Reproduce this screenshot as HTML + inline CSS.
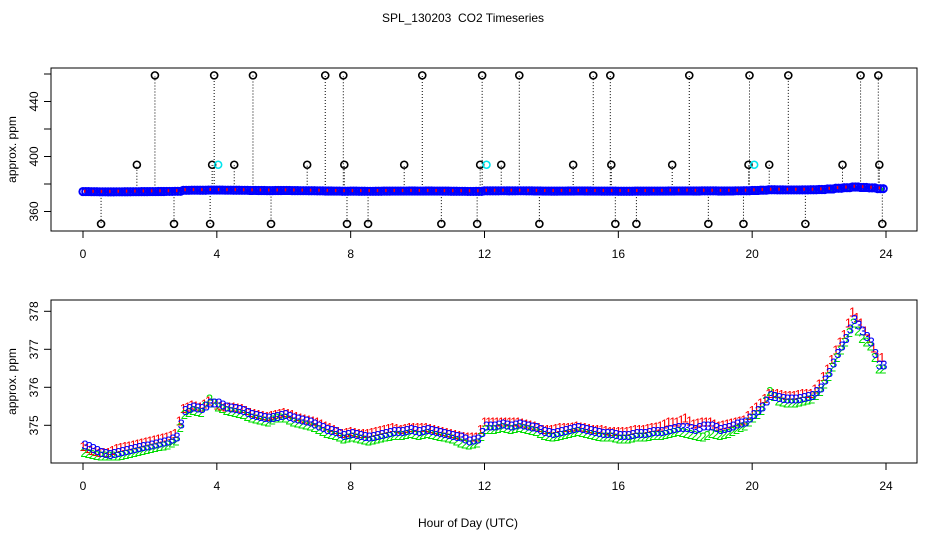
<!DOCTYPE html>
<html><head><meta charset="utf-8"><style>
body{margin:0;background:#fff}
svg text{font-family:"Liberation Sans",sans-serif}
</style></head><body>
<svg id="chart" width="936" height="540" viewBox="0 0 936 540" xmlns="http://www.w3.org/2000/svg">
<text x="463" y="22" font-size="12" text-anchor="middle" style="white-space:pre">SPL_130203  CO2 Timeseries</text>
<text x="468" y="527" font-size="12" text-anchor="middle">Hour of Day (UTC)</text>
<g id="topPanel"></g>
<g id="botPanel"></g>
</svg>
<script>
const times = [];
for (let i = 0; i < 96; i++) times.push(i * 0.25);
const seriesBlue = [374.5,374.4,374.3,374.25,374.3,374.35,374.4,374.45,374.5,374.55,374.6,374.7,375.4,375.5,375.45,375.6,
375.6,375.5,375.45,375.4,375.3,375.25,375.2,375.25,375.3,375.2,375.15,375.1,375.0,374.9,374.85,374.75,
374.8,374.75,374.7,374.75,374.8,374.85,374.85,374.9,374.85,374.9,374.85,374.8,374.75,374.7,374.6,374.65,
375.0,375.0,375.05,375.0,375.05,375.0,374.95,374.85,374.8,374.85,374.9,374.95,374.9,374.85,374.8,374.8,
374.75,374.75,374.8,374.8,374.85,374.85,374.9,374.95,374.95,374.9,375.0,375.0,374.9,374.95,375.05,375.1,
375.3,375.5,375.8,375.75,375.7,375.7,375.75,375.8,376.0,376.4,376.9,377.3,377.8,377.5,377.2,376.6];
const seriesRed = [374.45,374.35,374.3,374.3,374.4,374.45,374.5,374.55,374.6,374.65,374.7,374.8,375.45,375.55,375.5,375.65,
375.55,375.5,375.5,375.45,375.35,375.3,375.25,375.3,375.35,375.3,375.2,375.15,375.1,375.0,374.9,374.8,
374.85,374.8,374.8,374.85,374.9,374.95,374.9,374.95,374.95,374.95,374.9,374.85,374.8,374.75,374.7,374.7,
375.1,375.1,375.1,375.1,375.1,375.05,375.0,374.9,374.9,374.95,374.95,375.0,374.95,374.9,374.9,374.85,
374.85,374.85,374.9,374.9,374.95,375.0,375.1,375.1,375.2,375.05,375.1,375.1,375.0,375.05,375.1,375.15,
375.4,375.6,375.85,375.85,375.8,375.8,375.85,375.85,376.1,376.5,377.0,377.4,378.0,377.7,377.3,376.8];
const seriesGreen = [374.3,374.25,374.2,374.2,374.2,374.25,374.3,374.35,374.4,374.45,374.5,374.6,375.3,375.4,375.35,375.7,
375.5,375.4,375.35,375.3,375.2,375.15,375.1,375.2,375.2,375.1,375.05,375.0,374.9,374.8,374.75,374.65,
374.7,374.65,374.6,374.65,374.7,374.75,374.75,374.8,374.75,374.8,374.75,374.7,374.65,374.55,374.5,374.55,
374.9,374.9,374.95,374.9,374.95,374.9,374.85,374.75,374.7,374.75,374.8,374.85,374.8,374.75,374.7,374.7,
374.65,374.65,374.7,374.7,374.75,374.75,374.8,374.85,374.8,374.75,374.7,374.8,374.75,374.8,374.9,375.0,
375.2,375.4,375.9,375.65,375.6,375.6,375.65,375.7,375.9,376.3,376.8,377.2,377.7,377.3,377.1,376.5];
const spikeHighHours = [2.15,3.92,5.08,7.24,7.78,10.14,11.93,13.04,15.25,15.76,18.12,19.92,21.08,23.24,23.77];
const spikeMidHours = [1.61,3.86,4.52,6.70,7.81,9.60,11.87,12.5,14.65,15.79,17.61,19.89,20.51,22.70,23.80];
const spikeCyanHours = [3.98,12.0,20.0];
const spikeLowHours = [0.54,2.72,3.80,5.62,7.89,8.52,10.71,11.78,13.64,15.91,16.54,18.69,19.74,21.59,23.89];
const spikeHigh = 459, spikeMid = 394, spikeLow = 351;
const xTicks = [0,4,8,12,16,20,24];
const topYTicks = [360,380,400,420,440,460];
const topYLabels = [360,400,440];
const botYTicks = [375,376,377,378];

const NS = "http://www.w3.org/2000/svg";
function mk(parent, tag, attrs){const e=document.createElementNS(NS,tag);for(const k in attrs)e.setAttribute(k,attrs[k]);parent.appendChild(e);return e;}
const xS = h => 83 + h * (886 - 83) / 24;
const yTop = v => 211.5 - (v - 360) * 1.375;
const yBot = v => 425.3 - (v - 375) * 38;

function frame(g, y0, y1, yScale, ticks, labels, prefix){
  const b = mk(g,'rect',{x:51,y:y0,width:866,height:y1-y0,fill:'none',stroke:'#000','stroke-width':1});
  
  
  xTicks.forEach(t=>{
    mk(g,'line',{x1:xS(t),x2:xS(t),y1:y1,y2:y1+7,stroke:'#000'});
    const tx = mk(g,'text',{x:xS(t),y:y1+27,'font-size':12,'text-anchor':'middle'});
    tx.textContent = t;
    
    
  });
  ticks.forEach(t=>{
    mk(g,'line',{x1:44,x2:51,y1:yScale(t),y2:yScale(t),stroke:'#000'});
  });
  labels.forEach(t=>{
    const y = yScale(t);
    const tx = mk(g,'text',{x:38,y:y,'font-size':12,'text-anchor':'middle',transform:`rotate(-90 38 ${y})`});
    tx.textContent = t;
    
    
  });
  const yc = (y0+y1)/2;
  const at = mk(g,'text',{x:16,y:yc,'font-size':12,'text-anchor':'middle',transform:`rotate(-90 16 ${yc})`});
  at.textContent = 'approx. ppm';
  
  
}

// top panel
const topG = document.getElementById('topPanel');
frame(topG, 68, 231, yTop, topYTicks, topYLabels, 'top');
function spikes(hours, val, color){
  hours.forEach(h=>{
    const i = Math.min(95, Math.round(h*4));
    mk(topG,'line',{x1:xS(h),x2:xS(h),y1:yTop(seriesBlue[i]),y2:yTop(val),stroke:'#000','stroke-dasharray':'1,2','stroke-width':1});
    const c = mk(topG,'circle',{cx:xS(h),cy:yTop(val),r:3.5,fill:'none',stroke:color,'stroke-width':1.6});
    
    
  });
}
spikes(spikeHighHours, spikeHigh, '#000');
spikes(spikeMidHours, spikeMid, '#000');
spikes(spikeLowHours, spikeLow, '#000');
spikeCyanHours.forEach(h=>{
  const c = mk(topG,'circle',{cx:xS(h)+2,cy:yTop(spikeMid),r:3.5,fill:'none',stroke:'#00e5ee','stroke-width':1.6});
  
  
});
for (let i=0;i<times.length;i++){
  for (let k=0;k<3;k++){
    const hh = times[i] + k*0.0833;
    const c = mk(topG,'circle',{cx:xS(hh),cy:yTop(seriesBlue[i]),r:3.6,fill:'none',stroke:'#0000ff','stroke-width':2});
    
    
  }
  const r = mk(topG,'rect',{x:xS(times[i])+1,y:yTop(seriesRed[i])-2,width:1.5,height:3,fill:'#ff0000'});
  
  
  const g2 = mk(topG,'rect',{x:xS(times[i])+4,y:yTop(seriesGreen[i])-1,width:1.5,height:3,fill:'#00cc00'});
  
  
}

// bottom panel
const botG = document.getElementById('botPanel');
frame(botG, 300, 463, yBot, botYTicks, botYTicks, 'bottom');
const sets = [[seriesRed,'#ff0000','1'],[seriesGreen,'#00dd00','2'],[seriesBlue,'#0000ff','3']];
sets.forEach(([arr,col,ch],si)=>{
  for (let k=0;k<2;k++){
    arr.forEach((v,i)=>{
      const vv = k===0 ? v : (i<95 ? (v+arr[i+1])/2 : v);
      const t = mk(botG,'text',{x:xS(times[i]+k*0.125)+si, y:yBot(vv)+5,'font-size':13,'text-anchor':'middle',fill:col});
      t.textContent = ch;
      
      
    });
  }
});
</script>
</body></html>
